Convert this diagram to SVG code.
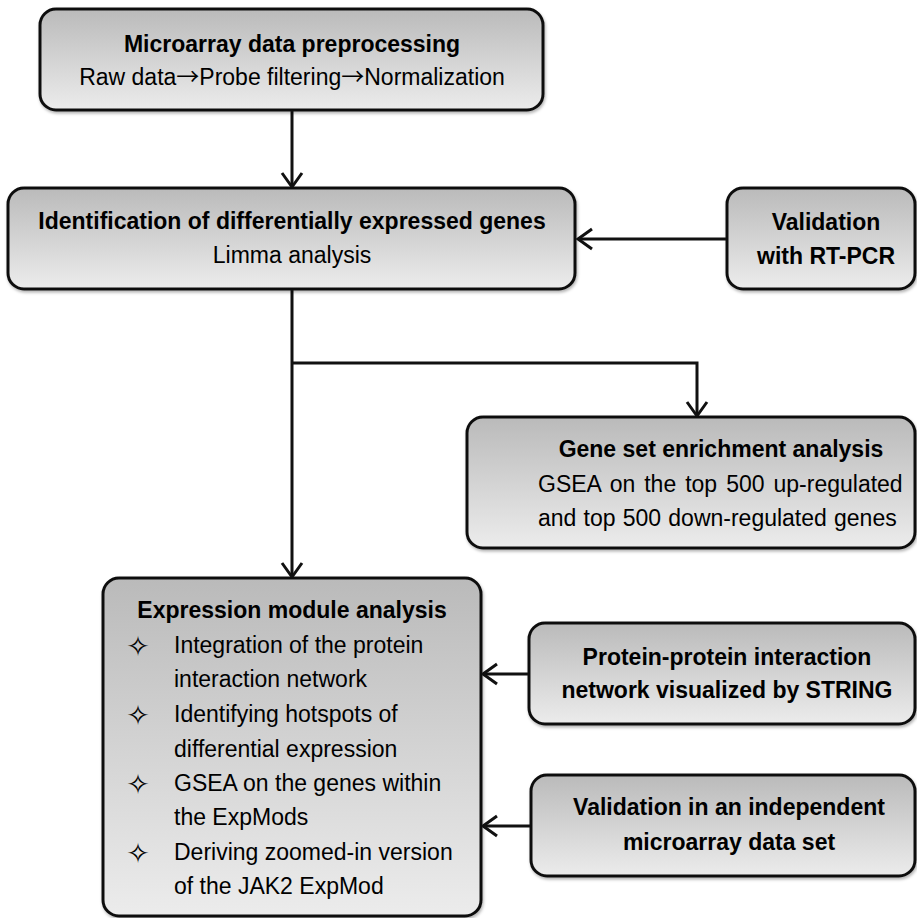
<svg xmlns="http://www.w3.org/2000/svg" width="917" height="918" viewBox="0 0 917 918">
<style>
.box{stroke:#111;stroke-width:3;fill:url(#g)}
.t{font-family:"Liberation Sans",Arial,sans-serif;font-size:23px;fill:#000}
.b{font-weight:bold}
.m{text-anchor:middle}
.ar{font-family:"Noto Sans CJK SC","DejaVu Sans",sans-serif}
.bul{font-family:"DejaVu Sans",sans-serif;font-size:28px;fill:#000;text-anchor:middle}
.c{fill:none;stroke:#111;stroke-width:3}
</style>
<defs>
<linearGradient id="g" x1="0" y1="0" x2="0" y2="1">
<stop offset="0" stop-color="#bababa"/>
<stop offset="1" stop-color="#ececec"/>
</linearGradient>
<filter id="sh" x="-5%" y="-5%" width="110%" height="115%">
<feDropShadow dx="1" dy="2" stdDeviation="1.5" flood-color="#000" flood-opacity="0.3"/>
</filter>
<marker id="ar" markerUnits="userSpaceOnUse" markerWidth="24" markerHeight="24" refX="15" refY="11" orient="auto" viewBox="0 0 24 22">
<path d="M1,1 L15,11 L1,21" fill="none" stroke="#111" stroke-width="3"/>
</marker>
</defs>

<g id="connectors">
<path class="c" d="M292,111 V187" marker-end="url(#ar)"/>
<path class="c" d="M727,239 H578" marker-end="url(#ar)"/>
<path class="c" d="M292,289 V577" marker-end="url(#ar)"/>
<path class="c" d="M292,363 H697 V416" marker-end="url(#ar)"/>
<path class="c" d="M529,674 H483" marker-end="url(#ar)"/>
<path class="c" d="M531,826 H483" marker-end="url(#ar)"/>
</g>

<g id="preprocessing">
<rect class="box" x="40" y="9" width="503" height="101" rx="16" filter="url(#sh)"/>
<text class="t b m" x="292" y="52">Microarray data preprocessing</text>
<text class="t m" x="292" y="85">Raw data<tspan class="ar">→</tspan>Probe filtering<tspan class="ar">→</tspan>Normalization</text>
</g>

<g id="deg">
<rect class="box" x="8" y="188" width="567" height="101" rx="16" filter="url(#sh)"/>
<text class="t b m" x="292" y="229">Identification of differentially expressed genes</text>
<text class="t m" x="292" y="263">Limma analysis</text>
</g>

<g id="rtpcr">
<rect class="box" x="727" y="188" width="188" height="101" rx="16" filter="url(#sh)"/>
<text class="t b m" x="826" y="230">Validation</text>
<text class="t b m" x="826" y="264">with RT-PCR</text>
</g>

<g id="gsea">
<rect class="box" x="467" y="417" width="448" height="131" rx="16" filter="url(#sh)"/>
<text class="t b m" x="721" y="457">Gene set enrichment analysis</text>
<text class="t" x="538" y="492" word-spacing="2.6">GSEA on the top 500 up-regulated</text>
<text class="t" x="538" y="526" word-spacing="0.8">and top 500 down-regulated genes</text>
</g>

<g id="expmod">
<rect class="box" x="103" y="578" width="378" height="338" rx="16" filter="url(#sh)"/>
<text class="t b m" x="292" y="618">Expression module analysis</text>
<text class="bul" x="138" y="656">✧</text>
<text class="t" x="174" y="653">Integration of the protein</text>
<text class="t" x="174" y="687">interaction network</text>
<text class="bul" x="138" y="725">✧</text>
<text class="t" x="174" y="722">Identifying hotspots of</text>
<text class="t" x="174" y="757">differential expression</text>
<text class="bul" x="138" y="794">✧</text>
<text class="t" x="174" y="791">GSEA on the genes within</text>
<text class="t" x="174" y="825">the ExpMods</text>
<text class="bul" x="138" y="863">✧</text>
<text class="t" x="174" y="860">Deriving zoomed-in version</text>
<text class="t" x="174" y="894">of the JAK2 ExpMod</text>
</g>

<g id="ppi">
<rect class="box" x="529" y="623" width="386" height="101" rx="16" filter="url(#sh)"/>
<text class="t b m" x="727" y="665">Protein-protein interaction</text>
<text class="t b m" x="727" y="698">network visualized by STRING</text>
</g>

<g id="validation2">
<rect class="box" x="531" y="775" width="384" height="101" rx="16" filter="url(#sh)"/>
<text class="t b m" x="729" y="815">Validation in an independent</text>
<text class="t b m" x="729" y="850">microarray data set</text>
</g>
</svg>
